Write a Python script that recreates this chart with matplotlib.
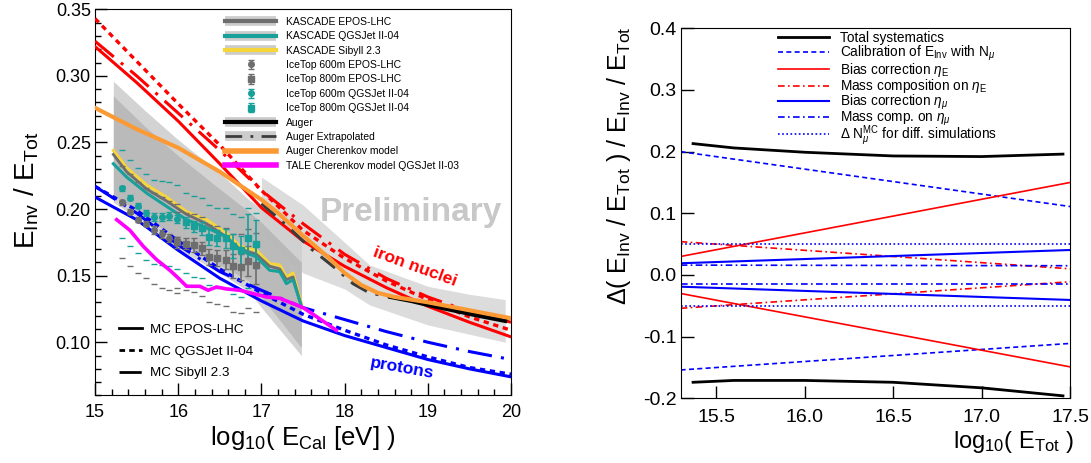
import matplotlib
matplotlib.use('Agg')
import matplotlib.pyplot as plt
from matplotlib.lines import Line2D
from matplotlib.legend import Legend
from matplotlib.legend_handler import HandlerErrorbar
from matplotlib.container import ErrorbarContainer
from matplotlib.ticker import MultipleLocator, FormatStrFormatter

plt.rcParams['font.family'] = ['Liberation Sans', 'DejaVu Sans']
plt.rcParams['mathtext.fontset'] = 'custom'
plt.rcParams['mathtext.rm'] = 'Liberation Sans'
plt.rcParams['mathtext.it'] = 'Liberation Sans:italic'
plt.rcParams['mathtext.bf'] = 'Liberation Sans:bold'

# ---- left panel data ----
mc_x = [15.0, 15.5, 16.0, 16.5, 17.0, 17.5, 18.0, 18.5, 19.0, 19.5, 20.0]
fe_epos = [0.322, 0.295, 0.266, 0.234, 0.201, 0.176, 0.157, 0.141, 0.127, 0.115, 0.104]
fe_qgs = [0.343, 0.311, 0.279, 0.248, 0.214, 0.184, 0.163, 0.146, 0.132, 0.119, 0.109]
fe_sib = [0.326, 0.300, 0.272, 0.244, 0.214, 0.189, 0.166, 0.148, 0.134, 0.123, 0.115]
p_epos = [0.209, 0.192, 0.169, 0.148, 0.131, 0.116, 0.105, 0.096, 0.087, 0.080, 0.074]
p_qgs = [0.217, 0.199, 0.176, 0.155, 0.137, 0.121, 0.109, 0.098, 0.089, 0.081, 0.076]
p_sib = [0.217, 0.197, 0.173, 0.153, 0.139, 0.126, 0.117, 0.108, 0.100, 0.093, 0.087]

kas_band_x = [15.22, 15.6, 16.0, 16.5, 16.85, 17.0, 17.48]
kas_outer_hi = [0.296, 0.274, 0.252, 0.227, 0.207, 0.200, 0.185]
kas_outer_lo = [0.205, 0.190, 0.170, 0.152, 0.138, 0.126, 0.090]
kas_inner_hi = [0.285, 0.262, 0.240, 0.215, 0.198, 0.190, 0.160]
kas_inner_lo = [0.210, 0.195, 0.176, 0.158, 0.146, 0.134, 0.096]

kas_x = [15.22, 15.38, 15.62, 15.86, 16.10, 16.34, 16.58, 16.74, 16.94, 17.10, 17.22, 17.30, 17.38, 17.48]
kas_sib = [0.244, 0.231, 0.218, 0.209, 0.198, 0.192, 0.182, 0.172, 0.169, 0.159, 0.158, 0.149, 0.152, 0.129]
kas_epos = [0.241, 0.228, 0.215, 0.206, 0.196, 0.189, 0.179, 0.170, 0.166, 0.157, 0.155, 0.147, 0.149, 0.127]
kas_qgs = [0.234, 0.224, 0.212, 0.202, 0.192, 0.186, 0.179, 0.169, 0.164, 0.154, 0.153, 0.144, 0.147, 0.127]

it600_x = [15.32, 15.42, 15.52, 15.61, 15.71, 15.80, 15.89, 15.99]
it600_epos = [0.205, 0.198, 0.192, 0.189, 0.184, 0.181, 0.178, 0.176]
it600_epos_up = [0.232, 0.226, 0.220, 0.216, 0.212, 0.209, 0.206, 0.204]
it600_epos_lo = [0.163, 0.157, 0.152, 0.148, 0.144, 0.141, 0.139, 0.137]
it600_qgs = [0.2155, 0.2085, 0.2025, 0.197, 0.194, 0.194, 0.195, 0.1925]
it600_qgs_up = [0.244, 0.237, 0.231, 0.226, 0.222, 0.221, 0.220, 0.218]
it600_qgs_lo = [0.178, 0.172, 0.167, 0.162, 0.159, 0.158, 0.157, 0.155]
it600_err = [0.002, 0.002, 0.002, 0.002, 0.003, 0.003, 0.003, 0.003]

it800_epos_x = [15.99, 16.09, 16.19, 16.28, 16.37, 16.47, 16.57, 16.66, 16.76, 16.84, 16.94]
it800_epos = [0.175, 0.174, 0.173, 0.1705, 0.164, 0.163, 0.162, 0.157, 0.1565, 0.161, 0.158]
it800_epos_err = [0.004, 0.004, 0.005, 0.005, 0.006, 0.006, 0.007, 0.009, 0.010, 0.011, 0.014]
it800_epos_up = [0.198, 0.197, 0.196, 0.194, 0.188, 0.187, 0.186, 0.181, 0.181, 0.185, 0.182]
it800_epos_lo = [0.141, 0.139, 0.138, 0.135, 0.130, 0.129, 0.127, 0.123, 0.122, 0.126, 0.123]
it800_qgs_x = [16.09, 16.19, 16.28, 16.37, 16.47, 16.57, 16.66, 16.76, 16.84, 16.94]
it800_qgs = [0.190, 0.187, 0.1855, 0.179, 0.178, 0.178, 0.172, 0.169, 0.178, 0.1735]
it800_qgs_err = [0.004, 0.004, 0.005, 0.006, 0.006, 0.007, 0.009, 0.011, 0.018, 0.018]
it800_qgs_up = [0.212, 0.210, 0.208, 0.203, 0.201, 0.201, 0.196, 0.194, 0.201, 0.197]
it800_qgs_lo = [0.152, 0.149, 0.148, 0.143, 0.141, 0.141, 0.136, 0.134, 0.141, 0.137]

auger_band_x = [17.0, 17.5, 18.0, 18.3, 19.0, 19.5, 19.93]
auger_band_hi = [0.224, 0.203, 0.175, 0.158, 0.142, 0.136, 0.132]
auger_band_lo = [0.180, 0.152, 0.140, 0.128, 0.113, 0.106, 0.100]
auger_ext_x = [17.0, 17.3, 17.6, 17.9, 18.1, 18.3, 18.55]
auger_ext = [0.204, 0.188, 0.170, 0.155, 0.144, 0.137, 0.134]
auger_x = [18.55, 18.8, 19.0, 19.3, 19.6, 19.93]
auger = [0.134, 0.131, 0.128, 0.124, 0.120, 0.116]

cher_x = [15.0, 15.5, 16.0, 16.5, 17.0, 17.2, 17.5, 17.8, 18.0, 18.2, 18.4, 18.6, 19.0, 19.5, 20.0]
cher = [0.276, 0.260, 0.246, 0.228, 0.207, 0.197, 0.180, 0.164, 0.152, 0.143, 0.137, 0.134, 0.130, 0.124, 0.118]

tale_x = [15.26, 15.42, 15.58, 15.74, 15.90, 16.02, 16.10, 16.26, 16.36, 16.46, 16.58, 16.74, 16.90,
          17.06, 17.22, 17.38, 17.50, 17.62, 17.76, 17.90]
tale = [0.192, 0.184, 0.172, 0.162, 0.154, 0.147, 0.142, 0.142, 0.139, 0.1415, 0.140, 0.139, 0.1365,
        0.134, 0.133, 0.129, 0.126, 0.121, 0.115, 0.109]

# ---- right panel data ----
sys_x = [15.3, 17.5]
calib_hi = [0.200, 0.111]
calib_lo = [-0.154, -0.111]
bias_e_hi = [0.030, 0.150]
bias_e_lo = [-0.030, -0.149]
mass_e_hi = [0.054, 0.010]
mass_e_lo = [-0.054, -0.011]
bias_mu_hi = [0.019, 0.0405]
bias_mu_lo = [-0.019, -0.0405]
mass_mu_hi = [0.016, 0.015]
mass_mu_lo = [-0.015, -0.015]
nmu_hi = [0.050, 0.050]
nmu_lo = [-0.050, -0.050]
tot_x = [15.37, 15.6, 16.0, 16.5, 17.0, 17.46]
tot_hi = [0.213, 0.206, 0.199, 0.193, 0.192, 0.196]
tot_lo = [-0.174, -0.171, -0.171, -0.174, -0.183, -0.196]

RED = '#ff0000'
BLUE = '#0000ff'
GRAY = '#6e6e6e'
TEAL = '#18a09a'
ORANGE = '#fb9a35'
YELLOW = '#f7d63c'
MAGENTA = '#ff00ff'

DASH = (0, (1.6, 1.4))
DASHDOT = (0, (8, 3, 1, 3))
SYS_DASH = (0, (3, 2))
SYS_DASHDOT = (0, (4, 2, 1, 2))
SYS_DOT = (0, (1, 1.5))

fig = plt.figure(figsize=(10.91, 4.63), dpi=100)
ax = fig.add_axes([0.0871, 0.1458, 0.3813, 0.8342])
ax2 = fig.add_axes([0.6239, 0.1397, 0.3569, 0.7992])

# bands
ax.fill_between(auger_band_x, auger_band_lo, auger_band_hi, color='#dcdcdc', lw=0, zorder=1)
ax.fill_between(kas_band_x, kas_outer_lo, kas_outer_hi, color='#cfcfcf', alpha=0.9, lw=0, zorder=1.1)
ax.fill_between(kas_band_x, kas_inner_lo, kas_inner_hi, color='#b4b4b4', alpha=0.8, lw=0, zorder=1.2)

# MC lines
ax.plot(mc_x, fe_epos, color=RED, lw=2.2, zorder=3)
ax.plot(mc_x, fe_qgs, color=RED, lw=2.4, ls=DASH, zorder=3)
ax.plot(mc_x, fe_sib, color=RED, lw=2.2, ls=DASHDOT, zorder=3)
ax.plot(mc_x, p_epos, color=BLUE, lw=2.2, zorder=3)
ax.plot(mc_x, p_qgs, color=BLUE, lw=2.4, ls=DASH, zorder=3)
ax.plot(mc_x, p_sib, color=BLUE, lw=2.2, ls=DASHDOT, zorder=3)

# KASCADE
ax.plot(kas_x, kas_sib, color=YELLOW, lw=2.2, zorder=4)
ax.plot(kas_x, kas_epos, color=GRAY, lw=2.0, zorder=4)
ax.plot(kas_x, kas_qgs, color=TEAL, lw=2.2, zorder=4)

# IceTop systematics marks
for xs, ys, c in [(it600_x, it600_epos_up, GRAY), (it600_x, it600_epos_lo, GRAY),
                  (it600_x, it600_qgs_up, TEAL), (it600_x, it600_qgs_lo, TEAL),
                  (it800_epos_x, it800_epos_up, GRAY), (it800_epos_x, it800_epos_lo, GRAY),
                  (it800_qgs_x, it800_qgs_up, TEAL), (it800_qgs_x, it800_qgs_lo, TEAL)]:
    ax.plot(xs, ys, ls='none', marker='_', ms=4, mew=1.0, color=c, zorder=4)

h_it600_epos = ax.errorbar(it600_x, it600_epos, yerr=it600_err, fmt='o', ms=4, color=GRAY,
                           elinewidth=1, capsize=2, zorder=5)
h_it800_epos = ax.errorbar(it800_epos_x, it800_epos, yerr=it800_epos_err, fmt='s', ms=4.5, color=GRAY,
                           elinewidth=1.2, capsize=2, zorder=5)
h_it600_qgs = ax.errorbar(it600_x, it600_qgs, yerr=it600_err, fmt='o', ms=4, color=TEAL,
                          elinewidth=1, capsize=2, zorder=5)
h_it800_qgs = ax.errorbar(it800_qgs_x, it800_qgs, yerr=it800_qgs_err, fmt='s', ms=4.5, color=TEAL,
                          elinewidth=1.2, capsize=2, zorder=5)

# Auger
ax.plot(auger_ext_x, auger_ext, color='#3c3c3c', lw=2.2, ls=(0, (6, 3, 1, 3)), zorder=5)
ax.plot(auger_x, auger, color='black', lw=3, zorder=5)
ax.plot(cher_x, cher, color=ORANGE, lw=3, zorder=6)
ax.plot(tale_x, tale, color=MAGENTA, lw=2.6, zorder=6)

ax.text(18.8, 0.1977, 'Preliminary', fontsize=24, fontweight='bold', color='#c8c8c8',
        ha='center', va='center', zorder=7)
ax.text(18.85, 0.1566, 'iron nuclei', fontsize=12.5, fontweight='bold', color=RED,
        ha='center', va='center', rotation=-20, zorder=7)
ax.text(18.69, 0.0805, 'protons', fontsize=12.5, fontweight='bold', color=BLUE,
        ha='center', va='center', rotation=-10, zorder=7)

ax.set_xlim(15, 20)
ax.set_ylim(0.06, 0.35)
ax.xaxis.set_major_locator(MultipleLocator(1))
ax.xaxis.set_minor_locator(MultipleLocator(0.2))
ax.yaxis.set_major_locator(MultipleLocator(0.05))
ax.yaxis.set_minor_locator(MultipleLocator(0.01))
ax.yaxis.set_major_formatter(FormatStrFormatter('%.2f'))
ax.tick_params(which='both', direction='in', labelsize=13)
ax.tick_params(which='major', length=8.5, width=1)
ax.tick_params(which='minor', length=4.5, width=1)
ax.tick_params(axis='x', pad=6)
ax.tick_params(axis='y', pad=3)
ax.set_xlabel(r'log$_{10}$( E$_{\rm Cal}$ [eV] )', fontsize=18.5)
ax.set_ylabel(r'E$_{\rm Inv}$ / E$_{\rm Tot}$', fontsize=20)
ax.xaxis.set_label_coords(0.5, -0.073)
ax.yaxis.set_label_coords(-0.13, 0.53)

band = dict(color='#cccccc', lw=7, solid_capstyle='butt')
handles1 = [
    (Line2D([], [], **band), Line2D([], [], color=GRAY, lw=3)),
    (Line2D([], [], **band), Line2D([], [], color=TEAL, lw=3)),
    (Line2D([], [], **band), Line2D([], [], color=YELLOW, lw=3)),
    h_it600_epos, h_it800_epos, h_it600_qgs, h_it800_qgs,
    (Line2D([], [], **band), Line2D([], [], color='black', lw=3)),
    (Line2D([], [], **band), Line2D([], [], color='#3c3c3c', lw=2, ls=(0, (6, 3, 1, 3)))),
    Line2D([], [], color=ORANGE, lw=4),
    Line2D([], [], color=MAGENTA, lw=4),
]
labels1 = ['KASCADE EPOS-LHC', 'KASCADE QGSJet II-04', 'KASCADE Sibyll 2.3',
           'IceTop 600m EPOS-LHC', 'IceTop 800m EPOS-LHC', 'IceTop 600m QGSJet II-04',
           'IceTop 800m QGSJet II-04', 'Auger', 'Auger Extrapolated', 'Auger Cherenkov model',
           'TALE Cherenkov model QGSJet II-03']
leg1 = ax.legend(handles1, labels1, loc='upper left', bbox_to_anchor=(0.3125, 0.98),
                 frameon=False, fontsize=7.5, handlelength=4.9, handletextpad=1.0,
                 labelspacing=0.42, borderpad=0, borderaxespad=0,
                 handler_map={ErrorbarContainer: HandlerErrorbar(xerr_size=0.3, yerr_size=0.45)})
ax.add_artist(leg1)

handles2 = [Line2D([], [], color='black', lw=2),
            Line2D([], [], color='black', lw=2, ls=(0, (2, 1.5))),
            Line2D([], [], color='black', lw=2, ls=DASHDOT)]
ax.legend(handles2, ['MC EPOS-LHC', 'MC QGSJet II-04', 'MC Sibyll 2.3'], loc='upper left',
          bbox_to_anchor=(0.058, 0.187), frameon=False, fontsize=9.7, handlelength=1.66,
          handletextpad=0.64, labelspacing=0.70, borderpad=0, borderaxespad=0)

# ---- right panel ----
ax2.plot(tot_x, tot_hi, color='black', lw=2)
ax2.plot(tot_x, tot_lo, color='black', lw=2)
ax2.plot(sys_x, calib_hi, color=BLUE, lw=1.2, ls=SYS_DASH)
ax2.plot(sys_x, calib_lo, color=BLUE, lw=1.2, ls=SYS_DASH)
ax2.plot(sys_x, bias_e_hi, color=RED, lw=1.2)
ax2.plot(sys_x, bias_e_lo, color=RED, lw=1.2)
ax2.plot(sys_x, mass_e_hi, color=RED, lw=1.2, ls=SYS_DASHDOT)
ax2.plot(sys_x, mass_e_lo, color=RED, lw=1.2, ls=SYS_DASHDOT)
ax2.plot(sys_x, bias_mu_hi, color=BLUE, lw=1.5)
ax2.plot(sys_x, bias_mu_lo, color=BLUE, lw=1.5)
ax2.plot(sys_x, mass_mu_hi, color=BLUE, lw=1.2, ls=SYS_DASHDOT)
ax2.plot(sys_x, mass_mu_lo, color=BLUE, lw=1.2, ls=SYS_DASHDOT)
ax2.plot(sys_x, nmu_hi, color=BLUE, lw=1.2, ls=SYS_DOT)
ax2.plot(sys_x, nmu_lo, color=BLUE, lw=1.2, ls=SYS_DOT)

ax2.set_xlim(15.3, 17.5)
ax2.set_ylim(-0.2, 0.4)
ax2.xaxis.set_major_locator(MultipleLocator(0.5))
ax2.yaxis.set_major_locator(MultipleLocator(0.1))
ax2.xaxis.set_major_formatter(FormatStrFormatter('%.1f'))
ax2.yaxis.set_major_formatter(FormatStrFormatter('%.1f'))
ax2.tick_params(which='major', direction='in', labelsize=14, length=9, width=1)
ax2.tick_params(axis='x', pad=8)
ax2.tick_params(axis='y', pad=3)
ax2.set_xlabel(r'log$_{10}$( E$_{\rm Tot}$ )', fontsize=17, loc='right')
ax2.set_ylabel(r'$\Delta$( E$_{\rm Inv}$ / E$_{\rm Tot}$ ) / E$_{\rm Inv}$ / E$_{\rm Tot}$',
               fontsize=18, loc='top')
ax2.xaxis.set_label_coords(1.01, -0.083)
ax2.yaxis.set_label_coords(-0.122, 1.006)

# one legend row per entry, so the rows keep the reference's even spacing
sys_entries = [
    (Line2D([], [], color='black', lw=2), 'Total systematics'),
    (Line2D([], [], color=BLUE, lw=1.2, ls=SYS_DASH), r'Calibration of E$_{\rm Inv}$ with N$_{\mu}$'),
    (Line2D([], [], color=RED, lw=1.2), r'Bias correction $\eta_{\rm E}$'),
    (Line2D([], [], color=RED, lw=1.2, ls=SYS_DASHDOT), r'Mass composition on $\eta_{\rm E}$'),
    (Line2D([], [], color=BLUE, lw=1.5), r'Bias correction $\eta_{\mu}$'),
    (Line2D([], [], color=BLUE, lw=1.2, ls=SYS_DASHDOT), r'Mass comp. on $\eta_{\mu}$'),
    (Line2D([], [], color=BLUE, lw=1.2, ls=SYS_DOT), r'$\Delta$ N$_{\mu}^{\rm MC}$ for diff. simulations'),
]
row_y = [0.975, 0.932, 0.887, 0.843, 0.799, 0.755, 0.709]
for (h, lab), yy in zip(sys_entries, row_y):
    lg = Legend(ax2, [h], [lab], loc='center left', bbox_to_anchor=(0.25, yy), frameon=False,
                fontsize=9.8, handlelength=3.75, handletextpad=0.8,
                borderpad=0, borderaxespad=0)
    ax2.add_artist(lg)

fig.savefig('out.png', dpi=100)
